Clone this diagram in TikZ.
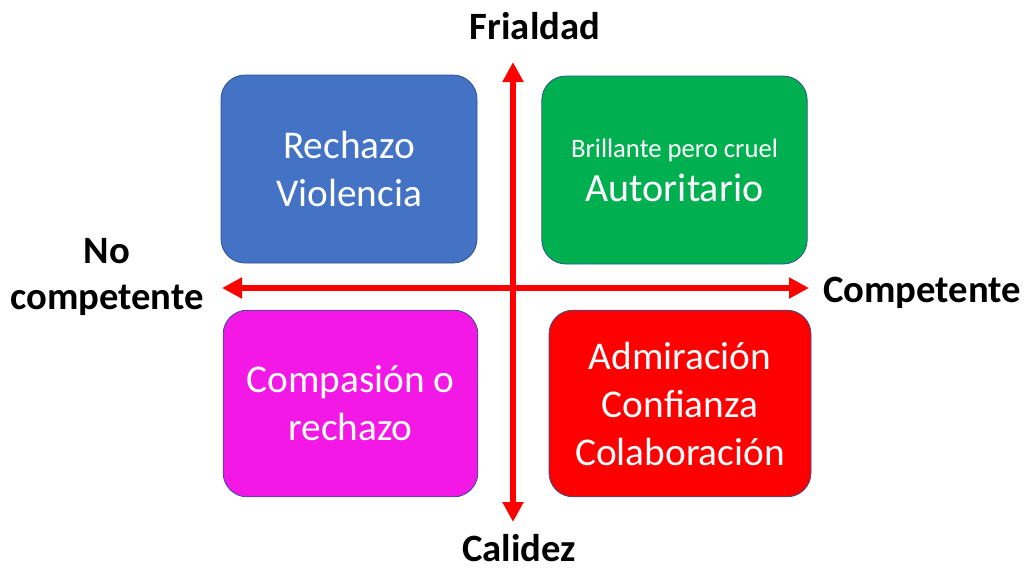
\documentclass[tikz,border=0pt]{standalone}
\usepackage{fontspec}
\setmainfont{Carlito}
\usepackage{tikz}
\usetikzlibrary{arrows.meta,positioning}
\definecolor{qblue}{HTML}{4472C4}
\definecolor{qgreen}{HTML}{00B050}
\definecolor{qmagenta}{HTML}{F418E7}
\definecolor{qred}{HTML}{FF0000}
\definecolor{qedge}{HTML}{2F528F}
\tikzset{
    quadrant/.style={
    rectangle,rounded corners=18pt,draw=qedge,line width=0.6pt,text=white,align=center,
    font=\fontsize{29.5}{36}\selectfont,inner sep=0pt
    },
    axislabel/.style={
    font=\fontsize{29}{34.5}\selectfont\bfseries,inner sep=0pt,align=center
    },
    axis/.style={
    draw=qred,line width=3.8pt,{Triangle[length=15pt,width=15pt]}-{Triangle[length=15pt,width=15pt]}
    },
}
\begin{document}
\begin{tikzpicture}[x=0.75pt,y=-0.75pt]
   \useasboundingbox (0,0) rectangle (1027,569);
   % quadrants
   \node[quadrant,fill=qblue,minimum width=192pt,minimum height=141pt] (reject) at (349,169) {Rechazo\\Violencia};
   \node[quadrant,fill=qgreen,minimum width=199pt,minimum height=141pt] (cruel) at (674.5,170) {{\fontsize{20}{26}\selectfont Brillante pero cruel}\\[-3pt]{\fontsize{30}{32}\selectfont Autoritario}};
   \node[quadrant,fill=qmagenta,minimum width=191pt,minimum height=140pt] (pity) at (350.5,403.5) {Compasión o\\rechazo};
   \node[quadrant,fill=qred,minimum width=196.5pt,minimum height=140pt] (admire) at (680,403.5) {Admiración\\Confianza\\Colaboración};

   % axes
   \coordinate (top) at (513,62);
   \coordinate (bottom) at (513,522);
   \coordinate (left) at (222,288);
   \coordinate (right) at (809,288);
   \draw[axis] (left) -- (right);
   \draw[axis] (bottom) -- (top);

   \node[axislabel,anchor=base] (cold) at (535,39) {Frialdad};
   \node[axislabel,anchor=base] (warm) at (519,561) {Calidez};
   \node[axislabel,anchor=base west] (comp) at (823,302) {Competente};
   \node[axislabel,anchor=base] (nocomp) at (107,309) {No\\competente};
\end{tikzpicture}
\end{document}
